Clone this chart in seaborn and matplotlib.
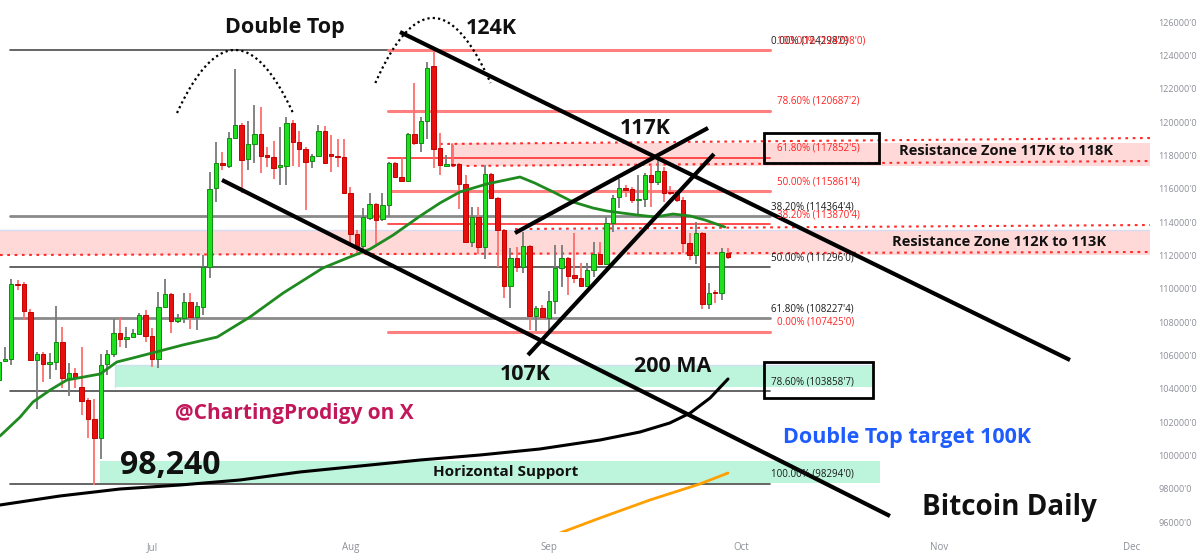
import numpy as np
import pandas as pd
import matplotlib
matplotlib.use("Agg")
import matplotlib.pyplot as plt
from matplotlib.patches import Rectangle
import seaborn as sns

# ---------------- data ----------------
start_date = "2025-06-07"
ref_date = "2025-07-01"
opens = [104520, 105660, 105780, 110300, 110280, 108600, 105720, 106080, 105480, 105600,
         106800, 104640, 104940, 104100, 103320, 102180, 101040, 105480, 106080, 107340,
         106980, 107100, 107280, 108420, 107160, 105780, 108900, 109680, 108060, 108240,
         109200, 108300, 108900, 111300, 116040, 117540, 117360, 119040, 119820, 117780,
         118680, 119280, 118020, 117900, 117300, 117360, 119940, 118800, 118380, 117660,
         117960, 119460, 118080, 117960, 117900, 115740, 113280, 112560, 114240, 115080,
         114180, 115020, 117540, 116700, 116460, 119280, 118740, 120060, 123360, 118440,
         117360, 117480, 117480, 116280, 112800, 114300, 112500, 116880, 115440, 113520,
         110160, 111840, 111300, 112560, 108360, 108840, 108240, 109260, 111240, 111840,
         110820, 110640, 110160, 111120, 112080, 111480, 113940, 115500, 116040, 115980,
         115320, 115380, 116820, 116400, 117060, 115800, 115800, 115320, 112740, 112020,
         113340, 109080, 109800, 109740, 112140]
highs = [106020, 106500, 110580, 110520, 110400, 108780, 106200, 106200, 106140, 108960,
         107700, 105540, 105240, 106500, 103440, 103380, 106080, 106320, 108180, 108300,
         107700, 107580, 108540, 108720, 107640, 109800, 110580, 109740, 108480, 109740,
         109740, 109200, 112020, 117000, 118800, 118200, 119400, 123180, 119940, 120060,
         121020, 120900, 118500, 118860, 119700, 120300, 120120, 119460, 118500, 118080,
         119820, 119760, 119220, 118980, 118980, 116100, 113520, 114840, 115740, 115140,
         115740, 117600, 117600, 117900, 119340, 122340, 120300, 123600, 124298, 119340,
         118020, 118620, 117540, 116820, 114900, 114900, 117420, 116940, 115500, 113580,
         112440, 112500, 113400, 112620, 108960, 109020, 109860, 112620, 112620, 111900,
         113340, 111540, 111540, 112800, 112800, 114300, 115620, 116580, 116220, 116100,
         116820, 116940, 117360, 117900, 117300, 116160, 115920, 115500, 113340, 114000,
         113400, 110340, 109920, 112440, 112440]
lows = [104220, 105600, 105420, 109920, 108120, 105660, 102780, 104400, 104580, 105120,
        104040, 103560, 104040, 102420, 101040, 98240, 99780, 104820, 105900, 106500,
        106440, 107040, 107220, 106800, 105300, 105240, 108840, 107340, 107940, 107940,
        107580, 107520, 108420, 110640, 115200, 117120, 117240, 118980, 115740, 117120,
        117540, 116940, 117300, 116580, 116220, 116220, 117360, 117300, 114720, 117240,
        117900, 117480, 117000, 117300, 115680, 112680, 112080, 112140, 114120, 112680,
        114060, 114300, 116640, 116400, 116400, 118620, 118200, 118980, 117240, 116820,
        117300, 117400, 114780, 112740, 112500, 112080, 111780, 115380, 111300, 109440,
        108840, 111000, 110940, 107520, 107460, 108120, 107425, 108480, 110100, 109620,
        110340, 110100, 110100, 110700, 111420, 111420, 113400, 114840, 115500, 115140,
        114480, 114900, 114900, 116220, 115200, 115620, 115200, 112140, 111720, 111480,
        108780, 108780, 109140, 109320, 111780]
closes = [105600, 105780, 110280, 110220, 108660, 105720, 106080, 105480, 105600, 106800,
          104640, 104940, 104700, 103260, 102180, 101040, 105420, 106080, 107340, 106980,
          107100, 107340, 108420, 107160, 105780, 108900, 109680, 108060, 108240, 109200,
          108300, 108960, 111300, 115980, 117540, 117420, 119040, 119820, 117720, 118680,
          119280, 117960, 117900, 117240, 117420, 119940, 118800, 118380, 117600, 117960,
          119460, 117540, 117960, 117900, 115740, 113280, 112560, 114300, 115080, 114120,
          115020, 117540, 116700, 116460, 119280, 118740, 120060, 123240, 118380, 117420,
          117480, 117420, 116280, 112800, 114300, 112500, 116880, 115440, 113520, 110160,
          111840, 111300, 112560, 108360, 108840, 108300, 109260, 111240, 111840, 110760,
          110640, 110160, 111120, 112080, 111480, 113940, 115440, 116040, 115920, 115320,
          115380, 116820, 116400, 117060, 115740, 115740, 115320, 112740, 112020, 113340,
          109080, 109740, 109740, 112200, 111900]

# 50 MA (green) and 200 MA (black), sampled: days from 1 Jul, price
ma50_days = [-23.75, -20.6, -18.6, -15.9, -13.3, -8.1, -5.5, -3.0, 0.0, 4.8, 10.2, 15.3,
             20.5, 26.7, 30.9, 34.1, 37.7, 41.9, 45.0, 48.1, 52.3, 57.5, 59.8, 62.7, 65.8,
             68.9, 71.1, 75.8, 78.6, 81.4, 84.1, 86.4, 89.5]
ma50_vals = [101160, 102300, 103200, 103920, 104520, 104880, 105600, 105840, 106140, 106620,
             107100, 108300, 109740, 111240, 111900, 112380, 113220, 114360, 115140, 115800,
             116280, 116700, 116340, 115800, 115200, 114840, 114660, 114420, 114300, 114480,
             114360, 114120, 113700]
ma200_days = [-23.75, -14.4, -5.0, 4.4, 13.75, 23.1, 32.5, 41.9, 51.25, 60.6, 70.0, 76.25,
              80.9, 84.1, 87.2, 90.0]
ma200_vals = [97020, 97560, 97980, 98220, 98520, 99000, 99360, 99720, 100020, 100380,
              100920, 101400, 101940, 102540, 103440, 104580]
orange_days = [63.75, 70.0, 77.8, 85.6, 90.0]
orange_vals = [95340, 96240, 97320, 98280, 98940]

# Fibonacci levels
fib_black_pct = ["0.00%", "38.20%", "50.00%", "61.80%", "78.60%", "100.00%"]
fib_black_vals = [124298.0, 114364.4, 111296.0, 108227.4, 103858.7, 98294.0]
fib_red_pct = ["100.00%", "78.60%", "61.80%", "50.00%", "38.20%", "0.00%"]
fib_red_vals = [124298.0, 120687.2, 117852.5, 115861.4, 113870.4, 107425.0]

# zones (price ranges)
res_upper = (117360, 118740)
res_lower = (112020, 113520)
sup_upper = (104100, 105420)
sup_lower = (98340, 99660)

y_ticks = list(range(96000, 126001, 2000))
month_labels = ["Jul", "Aug", "Sep", "Oct", "Nov", "Dec"]
month_starts = ["2025-07-01", "2025-08-01", "2025-09-01", "2025-10-01", "2025-11-01", "2025-12-01"]

# ---------------- figure ----------------
sns.set_theme(style="white")
plt.rcParams["font.family"] = ["Open Sans", "DejaVu Sans"]

fig = plt.figure(figsize=(12, 5.6), dpi=100)
ax = fig.add_axes([0, 28 / 560, 1150 / 1200, 532 / 560])
ax.set_xlim(-23.75, 155.94)
ax.set_ylim(95400, 127320)
for s in ax.spines.values():
    s.set_visible(False)

ref = pd.Timestamp(ref_date)
dates = pd.date_range(start_date, periods=len(opens))
xd = np.array((dates - ref).days, dtype=float)
o = np.array(opens, float); h = np.array(highs, float)
l = np.array(lows, float); c = np.array(closes, float)
up = c >= o

# zones
XL, XR = -23.75, 155.94
ax.fill_between([46.875, XR], *res_upper, color="#ffd8d8", lw=0, zorder=1)
ax.fill_between([XL, XR], *res_lower, color="#ffd8d8", lw=0, zorder=1)
ax.plot([XL, XR], [res_lower[1]] * 2, color="#d6dcf2", lw=1, zorder=1.1)
ax.fill_between([-5.78, 112.66], *sup_upper, color="#bdf4dc", lw=0, zorder=1)
ax.fill_between([-8.125, 113.75], *sup_lower, color="#bdf4dc", lw=0, zorder=1)
ax.plot([-5.78, -5.78, 112.66], [sup_upper[0], sup_upper[1], sup_upper[1]], color="#cfe0f0", lw=1, zorder=1.1)

# dotted zone borders
dot = (0, (1.3, 2.2))
ax.plot([45.0, XR], [118680, 119040], color="#ff2a2a", lw=1.5, ls=dot, zorder=2.5)
ax.plot([46.875, XR], [117360, 117660], color="#ff2a2a", lw=1.5, ls=dot, zorder=2.5)
ax.plot([56.72, XR], [113580, 113820], color="#ff2a2a", lw=1.5, ls=dot, zorder=2.5)
ax.plot([XL, XR], [112020, 112200], color="#ff2a2a", lw=1.5, ls=dot, zorder=2.5)
ax.plot([46.875, 46.875], [117360, 118680], color="#ff5050", lw=1.2, zorder=2.5)

# fib lines
for pct, v in zip(fib_black_pct, fib_black_vals):
    thick = pct in ("38.20%", "61.80%")
    ax.plot([-22.2, 96.56], [v, v], color="#8a8a8a" if thick else "#4a4a4a",
            lw=2.0 if thick else 1.2, zorder=2)
for pct, v in zip(fib_red_pct, fib_red_vals):
    thin = pct in ("61.80%", "38.20%")
    ax.plot([36.9, 96.56], [v, v], color="#ff3030" if thin else "#ff7e7e",
            lw=1.2 if thin else 2.2, zorder=2)

# fib labels
fs_fib = 7
for pct, v in zip(fib_black_pct, fib_black_vals):
    num = f"{v:.1f}".replace(".", "'")
    ax.text(96.7, v + 560, f"{pct} ({num})", fontsize=fs_fib, color="#1a1a1a",
            va="center", ha="left", zorder=6)
for pct, v in zip(fib_red_pct, fib_red_vals):
    num = f"{v:.1f}".replace(".", "'")
    ax.text(97.6, v + 560, f"{pct} ({num})", fontsize=fs_fib, color="#ff2020",
            va="center", ha="left", zorder=6)

# candles
wick_col = np.where(up, "#7a7a7a", "#ff6e6e")
ax.vlines(xd, l, h, colors=wick_col, lw=1.3, zorder=3)
body_lo = np.minimum(o, c)
body_h = np.maximum(np.abs(c - o), 70)
ax.bar(xd, body_h, bottom=body_lo, width=0.68,
       color=np.where(up, "#1fe01f", "#e80f0f"),
       edgecolor=np.where(up, "#118a11", "#c40000"), linewidth=0.7, zorder=3.5)

# moving averages
sns.lineplot(x=ma200_days, y=ma200_vals, ax=ax, color="black", lw=2.2, zorder=4)
sns.lineplot(x=ma50_days, y=ma50_vals, ax=ax, color="#1f8a1f", lw=2.0, zorder=4)
sns.lineplot(x=orange_days, y=orange_vals, ax=ax, color="#ff9f00", lw=2.0, zorder=4)

# trend lines
trend_lines = [((38.75, 125400), (143.44, 105720)),
               ((10.94, 116520), (115.31, 96360)),
               ((56.72, 113340), (86.875, 119640)),
               ((58.75, 106020), (87.81, 118080))]
for (x1, y1), (x2, y2) in trend_lines:
    ax.plot([x1, x2], [y1, y2], color="black", lw=3.0, solid_capstyle="butt", zorder=5)

# double top arcs
t = np.linspace(-1, 1, 80)
for pk_d, pk_p, hw, drop in [(12.97, 124320, 9.06, 3780), (43.9, 126240, 9.0, 3900)]:
    ax.plot(pk_d + hw * t, pk_p - drop * t ** 2, color="black", lw=1.6,
            ls=(0, (1.0, 1.4)), zorder=5)

# boxes
ax.add_patch(Rectangle((95.625, 117540), 113.6 - 95.625, 119340 - 117540, fill=False,
                       ec="black", lw=2, zorder=5))
ax.add_patch(Rectangle((95.625, 103440), 112.66 - 95.625, 105600 - 103440, fill=False,
                       ec="black", lw=2, zorder=5))

# annotations
big = dict(fontsize=15.5, fontweight="bold", color="#111111", ha="center", va="center", zorder=7)
ax.text(20.8, 125640, "Double Top", **big)
ax.text(53.1, 125640, "124K", **big)
ax.text(77.0, 119640, "117K", **big)
ax.text(58.4, 104880, "107K", **big)
ax.text(81.4, 105300, "200 MA", **big)
ax.text(22.3, 102540, "@ChartingProdigy on X", fontsize=15, fontweight="bold",
        color="#c2185b", ha="center", va="center", zorder=7)
ax.text(2.8, 99360, "98,240", fontsize=23, fontweight="bold", color="#111111",
        ha="center", va="center", zorder=7)
ax.text(118.0, 101100, "Double Top target 100K", fontsize=15.5, fontweight="bold",
        color="#1e5cff", ha="center", va="center", zorder=7)
ax.text(55.2, 99000, "Horizontal Support", fontsize=11, fontweight="bold",
        color="#111111", ha="center", va="center", zorder=7)
ax.text(133.9, 96840, "Bitcoin Daily", fontsize=20, fontweight="bold", color="#111111",
        ha="center", va="center", zorder=7)
ax.text(133.4, 118260, "Resistance Zone 117K to 118K", fontsize=10.5, fontweight="bold",
        color="#111111", ha="center", va="center", zorder=7)
ax.text(132.3, 112800, "Resistance Zone 112K to 113K", fontsize=10.5, fontweight="bold",
        color="#111111", ha="center", va="center", zorder=7)

# axes ticks
ax.yaxis.tick_right()
ax.set_yticks(y_ticks)
ax.set_yticklabels([f"{v}'0" for v in y_ticks], fontsize=6.5, color="#8c8f98")
mx = [(pd.Timestamp(m) - ref).days for m in month_starts]
ax.set_xticks(mx)
ax.set_xticklabels(month_labels, fontsize=7, color="#8c8f98")
ax.tick_params(axis="both", length=0)
ax.tick_params(axis="y", pad=6)
ax.tick_params(axis="x", pad=7)
ax.set_xlabel("")
ax.set_ylabel("")
ax.grid(False)

fig.savefig("out.png", dpi=100)
